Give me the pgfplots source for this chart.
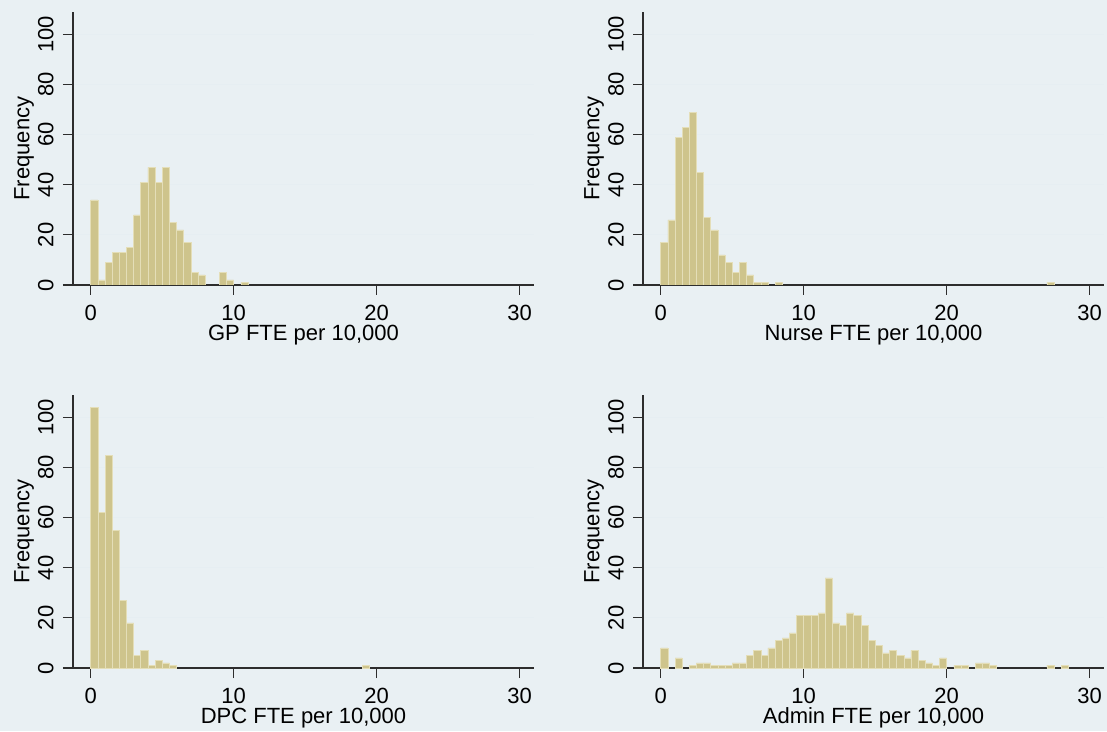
\documentclass[border=0pt]{standalone}
\usepackage{fontspec}
\setmainfont{Liberation Sans}
\usepackage{pgfplots}
\pgfplotsset{compat=1.18}
\definecolor{bgcol}{RGB}{233,240,243}
\definecolor{barfill}{RGB}{206,196,140}
\definecolor{baredge}{RGB}{228,222,184}
\definecolor{gridcol}{RGB}{230,238,242}
\definecolor{axcol}{RGB}{45,45,45}
\pgfplotsset{
 panel/.style={
  scale only axis, width=461pt, height=273pt,
  xmin=-1.24, xmax=31, ymin=0, ymax=109,
  axis x line*=bottom, axis y line*=left,
  axis line style={-, axcol, line width=1.1pt},
  xtick={0,10,20,30}, ytick={0,20,40,60,80,100},
  tick align=outside, major tick length=10pt,
  tick style={axcol, line width=1.1pt},
  ymajorgrids, grid style={gridcol, line width=1pt},
  /pgf/number format/assume math mode=true,
  ticklabel style={font=\fontsize{22}{22}\selectfont},
  yticklabel style={xshift=-9.5pt, rotate=90, anchor=base, inner sep=0pt},
  xticklabel style={anchor=north, inner sep=0pt, yshift=-10pt},
  label style={font=\fontsize{22}{22}\selectfont},
  ylabel={Frequency},
  ylabel style={at={(axis description cs:-0.0948,0.5)}, anchor=base},
  xlabel style={at={(axis description cs:0.5,-0.205)}, anchor=base},
 },
 bars/.style={ybar, bar width=0.5, fill=barfill, draw=baredge, line width=0.6pt},
}
\begin{document}
\begin{tikzpicture}
\fill[bgcol] (0,0) rectangle (1107pt,731pt);
% GP
\begin{axis}[panel, at={(73pt,446pt)}, anchor=south west, xlabel={GP FTE per 10,000}]
\addplot[bars] coordinates {
(0.25,34) (0.75,2) (1.25,9) (1.75,13) (2.25,13) (2.75,15) (3.25,28) (3.75,41)
(4.25,47) (4.75,41) (5.25,47) (5.75,25) (6.25,22) (6.75,17) (7.25,5) (7.75,4)
(9.25,5) (9.75,2) (10.75,1)};
\end{axis}
% Nurse
\begin{axis}[panel, at={(643pt,446pt)}, anchor=south west, xlabel={Nurse FTE per 10,000}]
\addplot[bars] coordinates {
(0.25,17) (0.75,26) (1.25,59) (1.75,63) (2.25,69) (2.75,45) (3.25,27) (3.75,22)
(4.25,12) (4.75,9) (5.25,5) (5.75,9) (6.25,4) (6.75,1) (7.25,1) (8.25,1) (27.25,1)};
\end{axis}
% DPC
\begin{axis}[panel, at={(73pt,63pt)}, anchor=south west, xlabel={DPC FTE per 10,000}]
\addplot[bars] coordinates {
(0.25,104) (0.75,62) (1.25,85) (1.75,55) (2.25,27) (2.75,18) (3.25,5) (3.75,7)
(4.25,1) (4.75,3) (5.25,2) (5.75,1) (19.25,1)};
\end{axis}
% Admin
\begin{axis}[panel, at={(643pt,63pt)}, anchor=south west, xlabel={Admin FTE per 10,000}]
\addplot[bars] coordinates {
(0.25,8) (1.25,4) (2.25,1) (2.75,2) (3.25,2) (3.75,1) (4.25,1) (4.75,1)
(5.25,2) (5.75,2) (6.25,5) (6.75,7) (7.25,5) (7.75,8) (8.25,11) (8.75,12)
(9.25,14) (9.75,21) (10.25,21) (10.75,21) (11.25,22) (11.75,36) (12.25,18) (12.75,17)
(13.25,22) (13.75,21) (14.25,17) (14.75,11) (15.25,9) (15.75,6) (16.25,7) (16.75,5)
(17.25,4) (17.75,7) (18.25,3) (18.75,2) (19.25,1) (19.75,4) (20.75,1) (21.25,1)
(22.25,2) (22.75,2) (23.25,1) (27.25,1) (28.25,1)};
\end{axis}
\pgfresetboundingbox
\path (0,0) rectangle (1107pt,731pt);
\end{tikzpicture}
\end{document}
